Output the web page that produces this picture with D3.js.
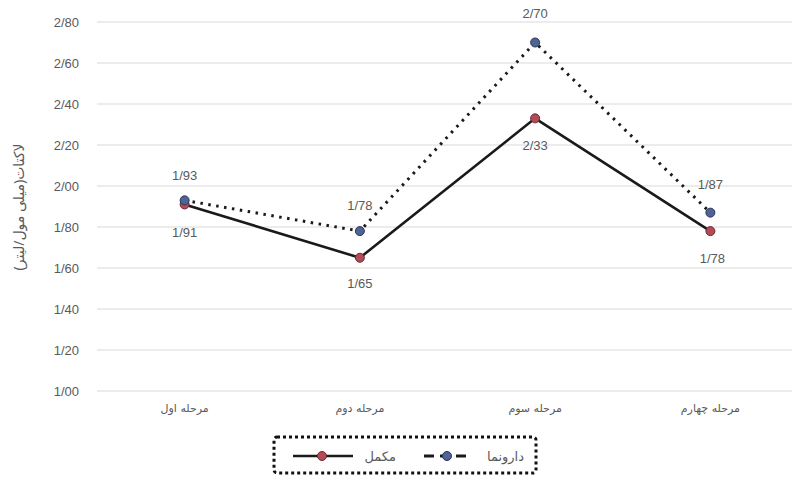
<!DOCTYPE html>
<html>
<head>
<meta charset="utf-8">
<script src="https://cdn.jsdelivr.net/npm/d3@7"></script>
<style>
  body { margin: 0; background: #fff; }
  svg { display: block; font-family: "Noto Sans", "DejaVu Sans", sans-serif; }
</style>
</head>
<body>
<svg id="chart" width="795" height="481"></svg>
<script>
// Lactate levels across four stages, supplement vs. placebo
const stages = ["مرحله اول", "مرحله دوم", "مرحله سوم", "مرحله چهارم"];
const supplement = [1.91, 1.65, 2.33, 1.78];   // مکمل
const placebo = [1.93, 1.78, 2.70, 1.87];      // دارونما
const yTicks = [1.0, 1.2, 1.4, 1.6, 1.8, 2.0, 2.2, 2.4, 2.6, 2.8];
const yTitle = "لاکتات(میلی مول/لیتر)";
const seriesNames = { supplement: "مکمل", placebo: "دارونما" };

const fmt = v => d3.format(".2f")(v).replace(".", "/");

const svg = d3.select("#chart");
const W = 795, H = 481;
const plot = { left: 97, right: 798, top: 22, bottom: 391, gridRight: 792 };

const x = d3.scaleBand().domain(stages).range([plot.left, plot.right]);
const y = d3.scaleLinear().domain([1.0, 2.8]).range([plot.bottom, plot.top]);
const cx = d => x(d) + x.bandwidth() / 2;

// gridlines
svg.append("g").selectAll("line").data(yTicks).join("line")
  .attr("x1", plot.left).attr("x2", plot.gridRight)
  .attr("y1", d => y(d)).attr("y2", d => y(d))
  .attr("stroke", "#d9d9d9").attr("stroke-width", 1.2);

// y axis labels
const yAxis = d3.axisLeft(y).tickValues(yTicks).tickFormat(fmt).tickSize(0).tickPadding(0);
const gy = svg.append("g").attr("transform", `translate(${plot.left - 18},0)`).call(yAxis);
gy.select(".domain").remove();
gy.selectAll("text").attr("fill", "#595959").style("font-size", "13px")
  .style("font-family", "'Liberation Sans', Arial, sans-serif");

// x axis labels
const xAxis = d3.axisBottom(x).tickSize(0).tickPadding(0);
const gx = svg.append("g").attr("transform", `translate(0,${plot.bottom + 13})`).call(xAxis);
gx.select(".domain").remove();
gx.selectAll("text").attr("fill", "#595959").style("font-size", "11px")
  .style("font-family", "'DejaVu Sans', sans-serif");

// y title
svg.append("text")
  .attr("transform", `translate(24,207) rotate(-90)`)
  .attr("text-anchor", "middle").attr("fill", "#595959")
  .style("font-size", "14px")
  .text(yTitle);

const line = d3.line().x((d, i) => cx(stages[i])).y(d => y(d));

// supplement: solid line
svg.append("path").datum(supplement).attr("d", line)
  .attr("fill", "none").attr("stroke", "#1a1a1a").attr("stroke-width", 2.6);

// placebo: dotted line
svg.append("path").datum(placebo).attr("d", line)
  .attr("fill", "none").attr("stroke", "#1a1a1a").attr("stroke-width", 3)
  .attr("stroke-dasharray", "2.5 5.5").attr("stroke-linecap", "butt");

// markers
svg.append("g").selectAll("circle").data(supplement).join("circle")
  .attr("cx", (d, i) => cx(stages[i])).attr("cy", d => y(d)).attr("r", 4.5)
  .attr("fill", "#b24a57").attr("stroke", "#6b2a33").attr("stroke-width", 1);
svg.append("g").selectAll("circle").data(placebo).join("circle")
  .attr("cx", (d, i) => cx(stages[i])).attr("cy", d => y(d)).attr("r", 4.5)
  .attr("fill", "#4d6494").attr("stroke", "#2a3559").attr("stroke-width", 1);

// value labels: placebo above its points, supplement below
const labelStyle = sel => sel.attr("fill", "#595959").style("font-size", "13px")
  .style("font-family", "'Liberation Sans', Arial, sans-serif").attr("text-anchor", "middle");
const placeboOffsets = [[0, -20], [0, -21], [0, -25], [0, -24]];
const suppOffsets = [[0, 33], [0, 30], [0, 32], [2, 32]];
svg.append("g").selectAll("text").data(placebo).join("text")
  .attr("x", (d, i) => cx(stages[i]) + placeboOffsets[i][0])
  .attr("y", (d, i) => y(d) + placeboOffsets[i][1])
  .text(fmt).call(labelStyle);
svg.append("g").selectAll("text").data(supplement).join("text")
  .attr("x", (d, i) => cx(stages[i]) + suppOffsets[i][0])
  .attr("y", (d, i) => y(d) + suppOffsets[i][1])
  .text(fmt).call(labelStyle);

// legend
const lg = svg.append("g");
lg.append("rect").attr("x", 274).attr("y", 437).attr("width", 262).attr("height", 36)
  .attr("rx", 3).attr("fill", "#fff").attr("stroke", "#111").attr("stroke-width", 3)
  .attr("stroke-dasharray", "3 3");
const ly = 456;
// placebo entry
lg.append("text").attr("x", 524).attr("y", ly + 5).attr("text-anchor", "end")
  .attr("fill", "#595959").style("font-size", "13px")
  .text(seriesNames.placebo);
lg.append("line").attr("x1", 424).attr("x2", 470).attr("y1", ly).attr("y2", ly)
  .attr("stroke", "#1a1a1a").attr("stroke-width", 3).attr("stroke-dasharray", "10 6");
lg.append("circle").attr("cx", 447).attr("cy", ly).attr("r", 4.5)
  .attr("fill", "#4d6494").attr("stroke", "#2a3559");
// supplement entry
lg.append("text").attr("x", 396).attr("y", ly + 5).attr("text-anchor", "end")
  .attr("fill", "#595959").style("font-size", "13px")
  .text(seriesNames.supplement);
lg.append("line").attr("x1", 293).attr("x2", 353).attr("y1", ly).attr("y2", ly)
  .attr("stroke", "#1a1a1a").attr("stroke-width", 2.6);
lg.append("circle").attr("cx", 322).attr("cy", ly).attr("r", 4.5)
  .attr("fill", "#b24a57").attr("stroke", "#6b2a33");
</script>
</body>
</html>
